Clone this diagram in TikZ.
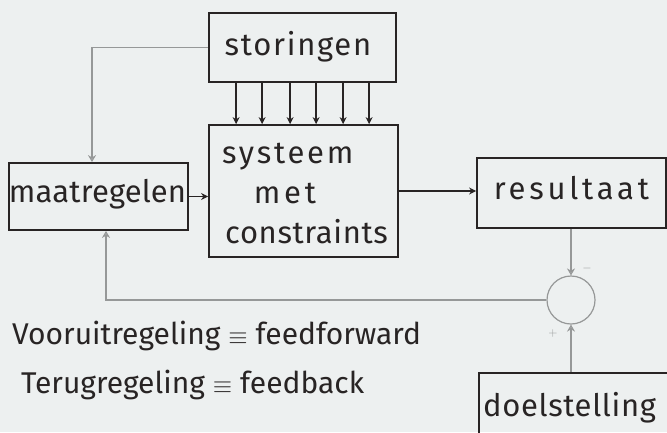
\documentclass[tikz,border=0pt]{standalone}
\usepackage{fontspec}
\setmainfont{Fira Sans}
\usetikzlibrary{arrows.meta}
\definecolor{paper}{RGB}{237,240,240}
\definecolor{ink}{RGB}{40,36,36}
\definecolor{pencil}{RGB}{150,152,152}
\tikzset{
  box/.style={draw=ink, line width=1.8pt, inner sep=0pt},
  lbl/.style={text=ink, font={\addfontfeature{LetterSpace=#1}\fontsize{31}{34}\selectfont}, inner sep=0pt},
  lbl/.default=0,
  legend/.style={text=ink, font=\fontsize{30}{34}\selectfont, inner sep=0pt},
  arr/.style={draw=ink, line width=1.3pt, -{Stealth[length=7pt,width=7pt]}},
  fbarr/.style={draw=pencil, line width=1.2pt, -{Stealth[length=7pt,width=8pt,open]}},
  sign/.style={text=pencil, font=\fontsize{12}{12}\selectfont, inner sep=0pt}
}
\begin{document}
\begin{tikzpicture}[x=1pt,y=-1pt]
\fill[paper] (0,0) rectangle (667,432);
\clip (0,0) rectangle (667,432);
\node[box, minimum width=187pt, minimum height=69pt] (stor) at (302.5,47.5) {};
\node[lbl=5.5, anchor=base] (stortxt) at (298,55) {storingen};
\node[box, minimum width=189pt, minimum height=132pt] (sys) at (303.5,191) {};
\node[lbl=9, anchor=base west] (sys1) at (222,163) {systeem};
\node[lbl=12, anchor=base] (sys2) at (285,203) {met};
\node[lbl=2, anchor=base west] (sys3) at (225,243) {constraints};
\node[box, minimum width=179pt, minimum height=67pt] (maat) at (98.5,196.5) {};
\node[lbl=0.5, anchor=base] (maattxt) at (97.5,202) {maatregelen};
\node[box, minimum width=189pt, minimum height=70pt] (res) at (571.5,193) {};
\node[lbl=12, anchor=base] (restxt) at (571.5,199) {resultaat};
\node[box, minimum width=211pt, minimum height=72pt] (doel) at (584.5,409) {};
\node[lbl=2, anchor=base west] (doeltxt) at (483,416) {doelstelling};
\node[draw=pencil, line width=1.2pt, circle, minimum size=48pt, inner sep=0pt] (sum) at (571,300) {};
\node[sign] (minus) at (587,268) {$-$};
\node[sign] (plus) at (553,333) {$+$};
\foreach \dx in {28,54,82,108,135,161}
  \draw[arr] ([xshift=\dx pt]stor.south west) -- ([xshift=\dx pt]stor.south west |- sys.north);
\draw[arr] (maat.east) -- (sys.west |- maat.east);
\draw[arr] (sys.east) -- (res.west |- sys.east);
\draw[fbarr] (stor.west) -| ([xshift=-6.5pt]maat.north);
\draw[fbarr] (sum.west) -| ([xshift=7.5pt]maat.south);
\draw[fbarr] (res.south -| sum) -- (sum.north);
\draw[fbarr] (sum |- doel.north) -- (sum.south);
\node[legend, anchor=base west] (ff) at (12,344) {Vooruitregeling $\equiv$ feedforward};
\node[legend, anchor=base west] (fb) at (21,393) {Terugregeling $\equiv$ feedback};
\end{tikzpicture}
\end{document}
